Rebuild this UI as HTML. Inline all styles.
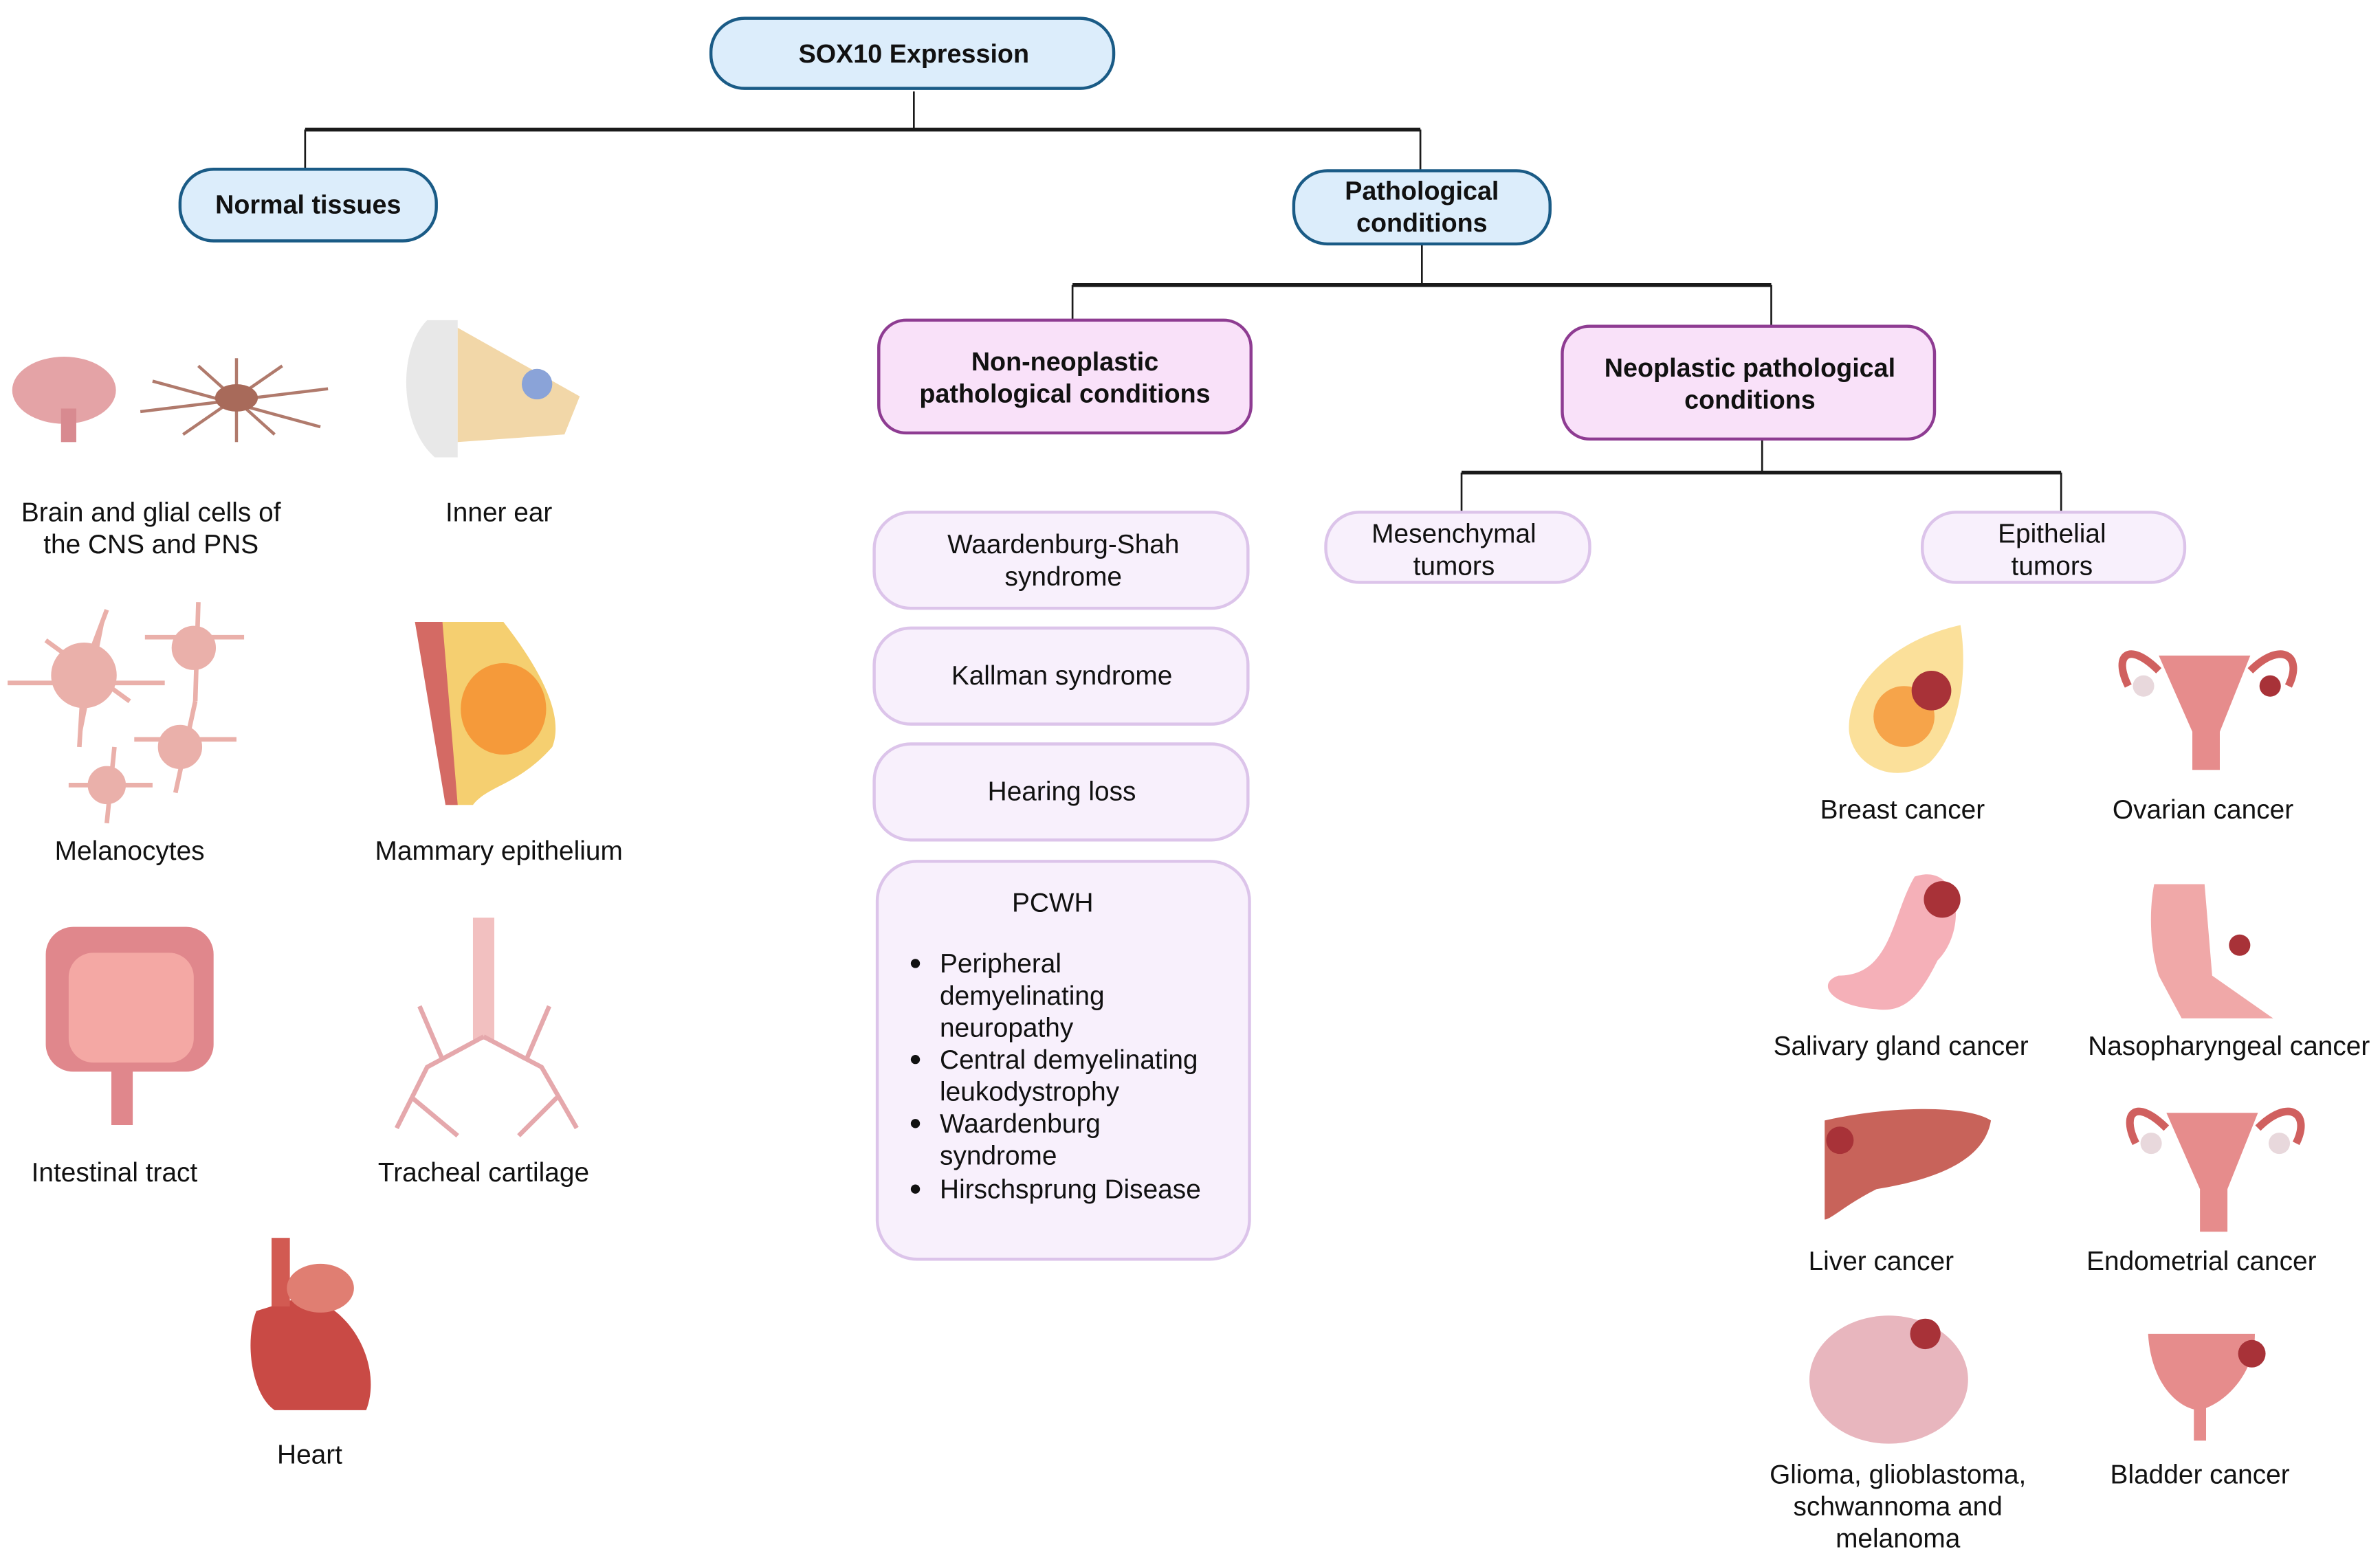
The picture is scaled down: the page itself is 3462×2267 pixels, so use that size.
<!DOCTYPE html>
<html><head><meta charset="utf-8">
<style>
html,body{margin:0;padding:0;background:#fff;}
svg{display:block;}
text{font-family:"Liberation Sans",sans-serif;fill:#111;}
.b{font-weight:bold;font-size:17px;}
.r{font-size:17.5px;}
</style></head><body>
<svg width="3462" height="2267" viewBox="0 0 1560 1022" preserveAspectRatio="none" xmlns="http://www.w3.org/2000/svg">
<g stroke="#1a1a1a" fill="none">
<path d="M599 60V85" stroke-width="1.2"/>
<path d="M200 85H931" stroke-width="2.5"/>
<path d="M200 85V111M931 85V112" stroke-width="1.2"/>
<path d="M932 160V187" stroke-width="1.2"/>
<path d="M703 187H1161" stroke-width="2.5"/>
<path d="M703 187V210M1161 187V214" stroke-width="1.2"/>
<path d="M1155 288V310" stroke-width="1.2"/>
<path d="M958 310H1351" stroke-width="2.5"/>
<path d="M958 310V336M1351 310V336" stroke-width="1.2"/>
</g>
<g stroke="#1a5b86" stroke-width="2" fill="#dcedfb">
<rect x="466" y="12" width="264" height="46" rx="22"/>
<rect x="118" y="111" width="168" height="47" rx="22"/>
<rect x="848" y="112" width="168" height="48" rx="22"/>
</g>
<g stroke="#8e3c92" stroke-width="2" fill="#f9e1f9">
<rect x="576" y="210" width="244" height="74" rx="18"/>
<rect x="1024" y="214" width="244" height="74" rx="18"/>
</g>
<g stroke="#dcc4ea" stroke-width="2" fill="#f8f0fc">
<rect x="869" y="336" width="173" height="46" rx="22"/>
<rect x="1260" y="336" width="172" height="46" rx="22"/>
<rect x="573" y="336" width="245" height="63" rx="24"/>
<rect x="573" y="412" width="245" height="63" rx="24"/>
<rect x="573" y="488" width="245" height="63" rx="24"/>
<rect x="575" y="565" width="244" height="261" rx="26"/>
</g>
<g class="b" text-anchor="middle">
<text x="599" y="41">SOX10 Expression</text>
<text x="202" y="140">Normal tissues</text>
<text x="932" y="131">Pathological</text>
<text x="932" y="152">conditions</text>
<text x="698" y="243">Non-neoplastic</text>
<text x="698" y="264">pathological conditions</text>
<text x="1147" y="247">Neoplastic pathological</text>
<text x="1147" y="268">conditions</text>
</g>
<g class="r" text-anchor="middle">
<text x="953" y="356">Mesenchymal</text><text x="953" y="377">tumors</text>
<text x="1345" y="356">Epithelial</text><text x="1345" y="377">tumors</text>
<text x="697" y="363">Waardenburg-Shah</text><text x="697" y="384">syndrome</text>
<text x="696" y="449">Kallman syndrome</text>
<text x="696" y="525">Hearing loss</text>
<text x="690" y="598">PCWH</text>
<text x="99" y="342">Brain and glial cells of</text><text x="99" y="363">the CNS and PNS</text>
<text x="327" y="342">Inner ear</text>
<text x="85" y="564">Melanocytes</text>
<text x="327" y="564">Mammary epithelium</text>
<text x="75" y="775">Intestinal tract</text>
<text x="317" y="775">Tracheal cartilage</text>
<text x="203" y="960">Heart</text>
<text x="1247" y="537">Breast cancer</text>
<text x="1444" y="537">Ovarian cancer</text>
<text x="1246" y="692">Salivary gland cancer</text>
<text x="1461" y="692">Nasopharyngeal cancer</text>
<text x="1233" y="833">Liver cancer</text>
<text x="1443" y="833">Endometrial cancer</text>
<text x="1244" y="973">Glioma, glioblastoma,</text>
<text x="1244" y="994">schwannoma and</text>
<text x="1244" y="1015">melanoma</text>
<text x="1442" y="973">Bladder cancer</text>
</g>
<g class="r">
<circle cx="600" cy="632" r="3" fill="#111"/>
<circle cx="600" cy="695" r="3" fill="#111"/>
<circle cx="600" cy="737" r="3" fill="#111"/>
<circle cx="600" cy="780" r="3" fill="#111"/>
<text x="616" y="638">Peripheral</text>
<text x="616" y="659">demyelinating</text>
<text x="616" y="680">neuropathy</text>
<text x="616" y="701">Central demyelinating</text>
<text x="616" y="722">leukodystrophy</text>
<text x="616" y="743">Waardenburg</text>
<text x="616" y="764">syndrome</text>
<text x="616" y="786">Hirschsprung Disease</text>
</g>
<!-- icons -->
<!-- brain -->
<ellipse cx="42" cy="256" rx="34" ry="22" fill="#e4a3a6"/>
<rect x="40" y="268" width="10" height="22" fill="#d88a90"/>
<!-- glial cell -->
<g stroke="#b07a6c" stroke-width="2" fill="none">
<path d="M92 270L215 255M100 250L210 280M130 240L180 285M120 285L185 240M155 235V290"/>
</g>
<ellipse cx="155" cy="261" rx="14" ry="9" fill="#a86a5a"/>
<!-- inner ear -->
<path d="M280 210C260 230 262 280 285 300L300 300L300 210Z" fill="#e8e8e8"/>
<path d="M300 215L380 260L370 285L300 290Z" fill="#f2d7a8"/>
<circle cx="352" cy="252" r="10" fill="#8aa3d8"/>
<!-- melanocytes -->
<g fill="#eab0aa" stroke="#eab0aa" stroke-width="3">
<circle cx="55" cy="443" r="20"/><path d="M5 448H108M70 400L55 440L52 490M30 420L85 460"/>
<circle cx="127" cy="425" r="13"/><path d="M95 418H160M130 395L128 460"/>
<circle cx="118" cy="490" r="13"/><path d="M88 485H155M128 460L115 520"/>
<circle cx="70" cy="515" r="11"/><path d="M45 515H100M75 490L70 540"/>
</g>
<!-- mammary -->
<path d="M272 408L330 408C355 440 370 470 362 490C340 515 320 515 310 528L295 528Z" fill="#f5cf70"/>
<path d="M272 408L290 408L300 528L292 528Z" fill="#d46a64"/>
<ellipse cx="330" cy="465" rx="28" ry="30" fill="#f59a3a"/>
<!-- intestine -->
<rect x="30" y="608" width="110" height="95" rx="18" fill="#e0878c"/>
<rect x="45" y="625" width="82" height="72" rx="16" fill="#f4a8a4"/>
<path d="M80 700V738" stroke="#e0878c" stroke-width="14"/>
<!-- lungs -->
<rect x="310" y="602" width="14" height="80" fill="#f2c0c0"/>
<g stroke="#e5a8ac" stroke-width="3" fill="none">
<path d="M317 680L280 700L260 740M290 695L275 660M317 680L355 700L378 740M345 695L360 660M270 720L300 745M365 720L340 745"/>
</g>
<!-- heart -->
<path d="M168 860C160 880 165 915 180 925L240 925C250 900 235 860 200 850Z" fill="#c94a45"/>
<rect x="178" y="812" width="12" height="45" fill="#d25a52"/>
<ellipse cx="210" cy="845" rx="22" ry="16" fill="#e07e72"/>
<!-- breast cancer -->
<path d="M1285 410C1240 420 1210 450 1212 480C1215 505 1245 515 1265 500C1285 480 1290 440 1285 410Z" fill="#fbe09a"/>
<circle cx="1248" cy="470" r="20" fill="#f6a44a"/>
<circle cx="1266" cy="453" r="13" fill="#a83238"/>
<!-- ovarian/uterus -->
<path d="M1415 430H1475L1455 480V505H1437V480Z" fill="#e68c8c"/>
<path d="M1415 440C1395 420 1385 430 1395 450M1475 440C1495 420 1510 430 1500 450" stroke="#d0605f" stroke-width="5" fill="none"/>
<circle cx="1405" cy="450" r="7" fill="#e8d8dc"/><circle cx="1488" cy="450" r="7" fill="#a83238"/>
<!-- salivary -->
<path d="M1255 575C1285 565 1290 610 1270 630C1260 650 1250 665 1230 662C1200 660 1190 645 1205 640C1240 640 1240 600 1255 575Z" fill="#f5b0b8"/>
<circle cx="1273" cy="590" r="12" fill="#a83238"/>
<!-- nasopharyngeal -->
<path d="M1412 580H1445L1450 640L1490 668H1430L1415 640C1410 625 1408 600 1412 580Z" fill="#f0a8a8"/>
<circle cx="1468" cy="620" r="7" fill="#a83238"/>
<!-- liver -->
<path d="M1196 735C1240 725 1290 725 1305 735C1300 765 1260 775 1230 780C1210 790 1200 800 1196 800Z" fill="#c8635a"/>
<circle cx="1206" cy="748" r="9" fill="#a83238"/>
<!-- endometrial -->
<path d="M1420 730H1480L1460 780V808H1442V780Z" fill="#e68c8c"/>
<path d="M1420 740C1400 720 1390 730 1400 750M1480 740C1500 720 1515 730 1505 750" stroke="#d0605f" stroke-width="5" fill="none"/>
<circle cx="1410" cy="750" r="7" fill="#e8d8dc"/><circle cx="1494" cy="750" r="7" fill="#e8d8dc"/>
<!-- glioma brain -->
<ellipse cx="1238" cy="905" rx="52" ry="42" fill="#e8b6be"/>
<circle cx="1262" cy="875" r="10" fill="#a83238"/>
<!-- bladder -->
<path d="M1408 875C1410 910 1430 925 1442 925C1460 920 1478 900 1478 875Z" fill="#e68c8c"/>
<rect x="1438" y="920" width="8" height="25" fill="#e68c8c"/>
<circle cx="1476" cy="888" r="9" fill="#a83238"/>
</svg>
</body></html>
